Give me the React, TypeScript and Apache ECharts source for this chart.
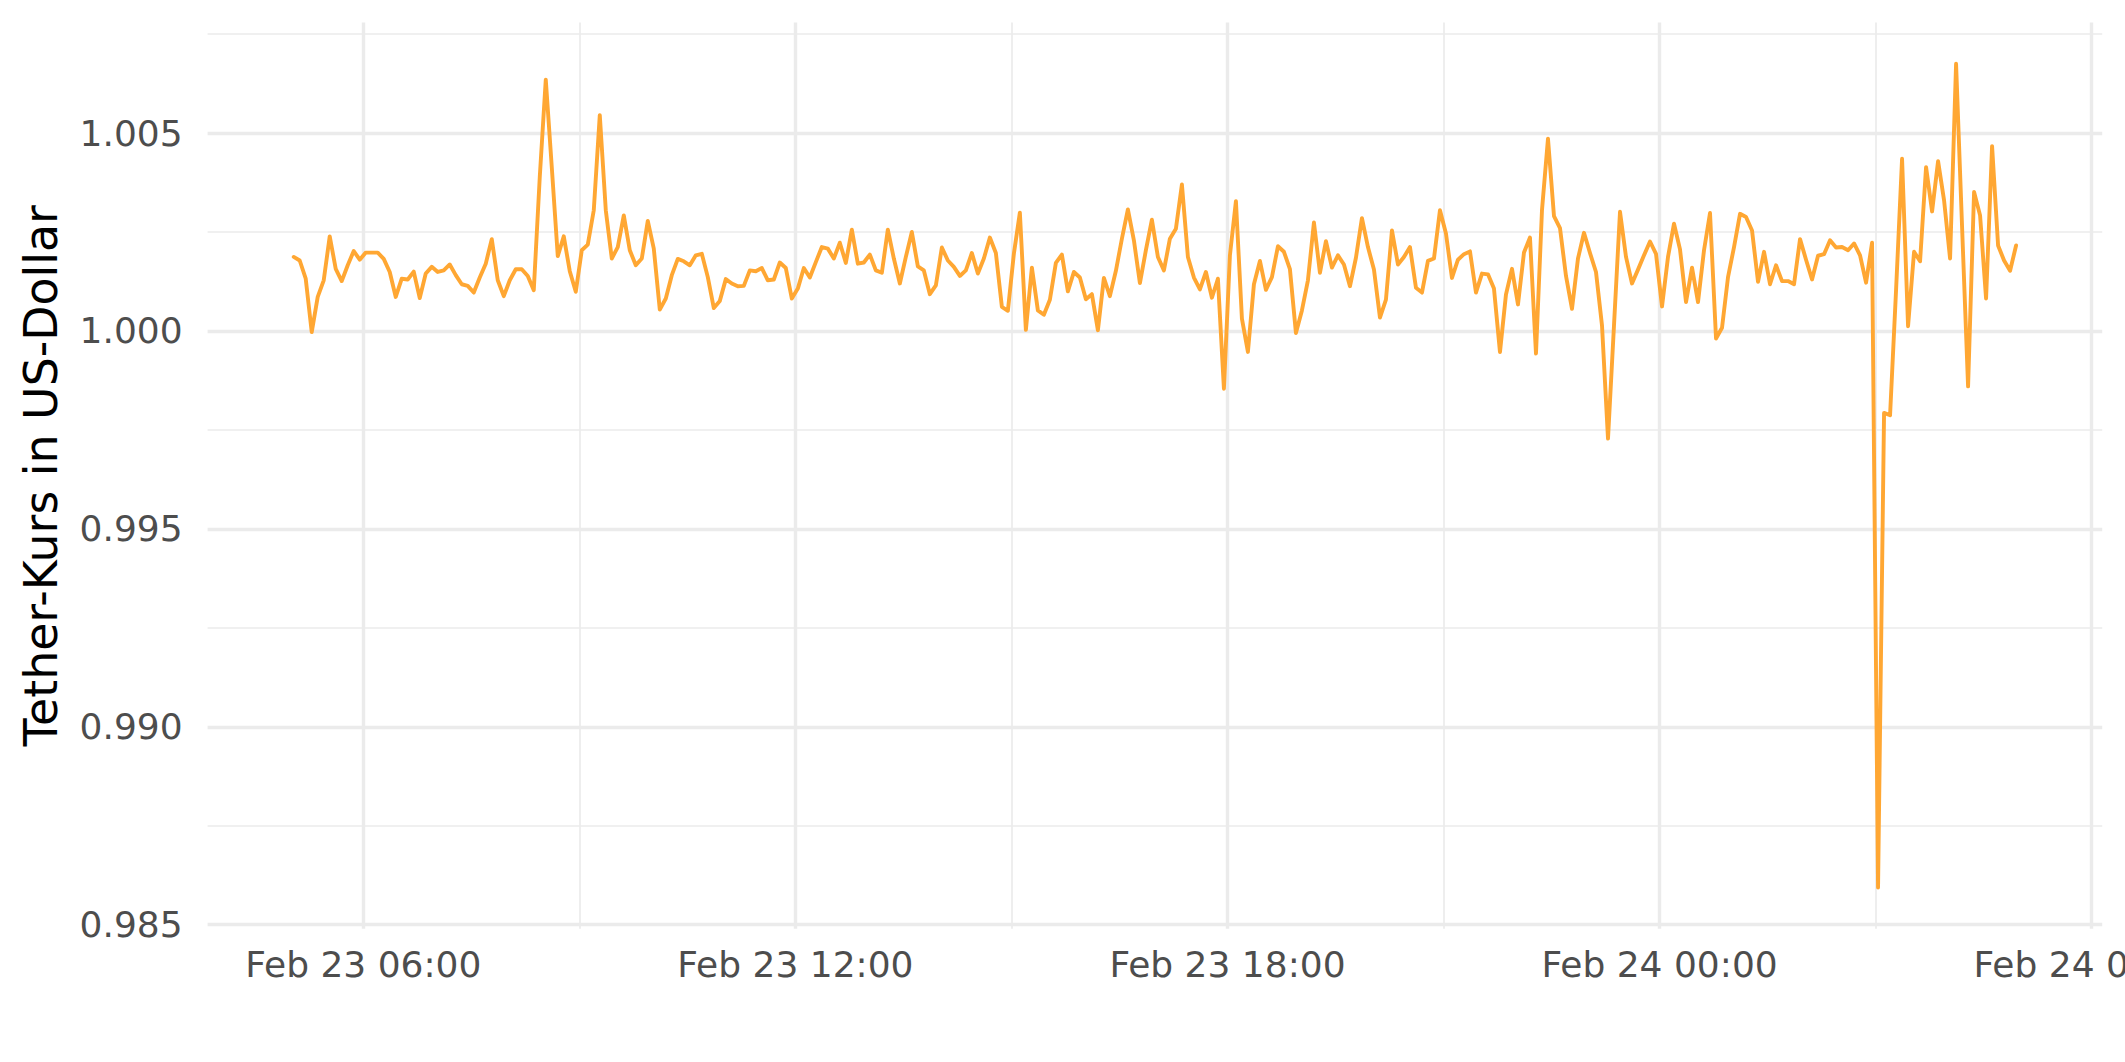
import React, { useEffect, useRef } from "react";
import * as echarts from "echarts";

// Tether price (USD), 5-minute steps starting Feb 23 05:02
const VALUES: number[] = [
  1.00187, 1.00178, 1.00132, 0.99997, 1.00086, 1.00128, 1.00239, 1.00157, 1.00126, 1.00166,
  1.00202, 1.0018, 1.00198, 1.00198, 1.00198, 1.00182, 1.00149, 1.00086, 1.00132, 1.0013,
  1.0015, 1.00083, 1.00145, 1.00162, 1.00149, 1.00153, 1.00168, 1.00141, 1.00118, 1.00114,
  1.00097, 1.00135, 1.0017, 1.00232, 1.00128, 1.00088, 1.00128, 1.00156, 1.00156, 1.00139,
  1.00103, 1.00389, 1.00635, 1.00414, 1.00189, 1.00239, 1.00151, 1.00099,
  1.00204, 1.00218, 1.00305, 1.00545, 1.00305, 1.00183, 1.00212, 1.00292, 1.00204, 1.00166,
  1.00183, 1.00278, 1.00208, 1.00054, 1.00082, 1.00141, 1.00182, 1.00176, 1.00166, 1.00191,
  1.00195, 1.00136, 1.00058, 1.00076, 1.00131, 1.0012, 1.00113, 1.00114, 1.00153, 1.00151,
  1.00159, 1.00128, 1.0013, 1.00173, 1.00159, 1.00082, 1.00107, 1.00159, 1.00135, 1.00174,
  1.00212, 1.00208, 1.00183, 1.00223, 1.00172, 1.00256, 1.0017,
  1.00173, 1.00193, 1.00153, 1.00147, 1.00256, 1.00183, 1.0012, 1.00187, 1.0025, 1.00163,
  1.00153, 1.00093, 1.00115, 1.00211, 1.00178, 1.00162, 1.00139, 1.00153, 1.00197, 1.00145,
  1.00183, 1.00236, 1.00197, 1.00061, 1.00051, 1.00195, 1.00299, 1.00003, 1.0016, 1.00052,
  1.00041, 1.00079, 1.00172, 1.00193, 1.001, 1.00149, 1.00135, 1.0008, 1.00093, 1.00002,
  1.00134, 1.00088, 1.00152, 1.00233, 1.00307, 1.00229, 1.00121,
  1.00204, 1.00281, 1.00187, 1.00153, 1.00233, 1.00258, 1.0037, 1.00187, 1.00135, 1.00105,
  1.00149, 1.00084, 1.00132, 0.99854, 1.00191, 1.00328, 1.00031, 0.99947, 1.00118, 1.00177,
  1.00104, 1.00136, 1.00214, 1.002, 1.00156, 0.99995, 1.00052, 1.00128, 1.00274, 1.00147,
  1.00227, 1.0016, 1.00191, 1.00168, 1.00113, 1.00185, 1.00285, 1.00212, 1.00155, 1.00034,
  1.00079, 1.00254, 1.00168, 1.00187, 1.00212, 1.00109,
  1.00097, 1.00177, 1.00183, 1.00305, 1.00246, 1.00134, 1.0018, 1.00194, 1.00201, 1.00097,
  1.00145, 1.00143, 1.00107, 0.99947, 1.00092, 1.00157, 1.00067, 1.00198, 1.00236, 0.99943,
  1.00305, 1.00486, 1.0029, 1.0026, 1.00139, 1.00056, 1.00183, 1.00248, 1.00197, 1.00149,
  1.00014, 0.99728, 1.00014, 1.00301, 1.00187, 1.0012, 1.00155, 1.00191, 1.00226, 1.00195,
  1.00062, 1.00187, 1.00271, 1.00206, 1.00073, 1.0016, 1.00073,
  1.00204, 1.00298, 0.99981, 1.00008, 1.00136, 1.00212, 1.00296, 1.00288, 1.00254, 1.00124,
  1.002, 1.00118, 1.00166, 1.00126, 1.00126, 1.00118, 1.00232, 1.0018, 1.0013, 1.0019,
  1.00194, 1.00229, 1.00211, 1.00212, 1.00204, 1.00221, 1.00191, 1.00122, 1.00223, 0.98594,
  0.99793, 0.99787, 1.00103, 1.00435, 1.00012, 1.002, 1.00176, 1.00414, 1.00302, 1.00429,
  1.0033, 1.00183, 1.00675, 1.00263, 0.9986, 1.00351, 1.00292, 1.00082, 1.00467, 1.00216,
  1.00178, 1.00152, 1.00216,
];

const START = new Date(2024, 1, 23, 5, 2, 0).getTime();
const STEP_MINUTES = 5;

const X_MIN = new Date(2024, 1, 23, 3, 50, 15).getTime();
const X_MAX = new Date(2024, 1, 24, 6, 8, 45).getTime();
const X_MAJOR = [
  new Date(2024, 1, 23, 6, 0).getTime(),
  new Date(2024, 1, 23, 12, 0).getTime(),
  new Date(2024, 1, 23, 18, 0).getTime(),
  new Date(2024, 1, 24, 0, 0).getTime(),
  new Date(2024, 1, 24, 6, 0).getTime(),
];
const X_MINOR = [
  new Date(2024, 1, 23, 9, 0).getTime(),
  new Date(2024, 1, 23, 15, 0).getTime(),
  new Date(2024, 1, 23, 21, 0).getTime(),
  new Date(2024, 1, 24, 3, 0).getTime(),
];

const Y_MIN = 0.9849;
const Y_MAX = 1.00779;
const Y_MAJOR = [0.985, 0.99, 0.995, 1.0, 1.005];
const Y_MINOR = [0.9875, 0.9925, 0.9975, 1.0025, 1.0075];

const MONTHS = ["Jan", "Feb", "Mar", "Apr", "May", "Jun", "Jul", "Aug", "Sep", "Oct", "Nov", "Dec"];
const pad = (n: number) => (n < 10 ? "0" + n : "" + n);

const FONT = "DejaVu Sans";
const GRID_COLOR = "#EBEBEB";

export default function App() {
  const ref = useRef<HTMLDivElement>(null);

  useEffect(() => {
    if (!ref.current) return;
    const chart = echarts.init(ref.current, null, { renderer: "svg" });
    const data = VALUES.map((v, i) => [START + i * STEP_MINUTES * 60000, v]);

    const gridLines: any[] = [
      ...Y_MINOR.map((v) => ({ yAxis: v, lineStyle: { width: 1.7, color: GRID_COLOR, type: "solid" } })),
      ...X_MINOR.map((t) => ({ xAxis: t, lineStyle: { width: 1.7, color: GRID_COLOR, type: "solid" } })),
      ...Y_MAJOR.map((v) => ({ yAxis: v, lineStyle: { width: 3.4, color: GRID_COLOR, type: "solid" } })),
      ...X_MAJOR.map((t) => ({ xAxis: t, lineStyle: { width: 3.4, color: GRID_COLOR, type: "solid" } })),
    ];

    chart.setOption({
      animation: false,
      backgroundColor: "#ffffff",
      grid: {
        left: 207.6,
        right: 22.8,
        top: 22.6,
        bottom: 133.3,
        containLabel: false,
        outerBoundsMode: "none",
      },
      xAxis: {
        type: "value",
        min: X_MIN,
        max: X_MAX,
        axisLine: { show: false },
        axisTick: { show: false },
        splitLine: { show: false },
        axisLabel: {
          customValues: X_MAJOR,
          margin: 17.5,
          color: "#4D4D4D",
          fontSize: 36,
          fontFamily: FONT,
          hideOverlap: false,
          formatter: (val: number) => {
            const d = new Date(val);
            return `${MONTHS[d.getMonth()]} ${d.getDate()} ${pad(d.getHours())}:${pad(d.getMinutes())}`;
          },
        },
      },
      yAxis: {
        type: "value",
        min: Y_MIN,
        max: Y_MAX,
        name: "Tether-Kurs in US-Dollar",
        nameLocation: "middle",
        nameGap: 144,
        nameTextStyle: { fontSize: 45.8, color: "#000000", fontFamily: FONT },
        axisLine: { show: false },
        axisTick: { show: false },
        splitLine: { show: false },
        axisLabel: {
          customValues: Y_MAJOR,
          margin: 25,
          color: "#4D4D4D",
          fontSize: 36,
          fontFamily: FONT,
          formatter: (v: number) => v.toFixed(3),
        },
      },
      series: [
        {
          type: "line",
          data,
          z: 3,
          showSymbol: false,
          symbol: "none",
          silent: true,
          lineStyle: { color: "#FFA733", width: 3.9, cap: "round", join: "round" },
          markLine: {
            z: 1,
            silent: true,
            precision: 8,
            symbol: ["none", "none"],
            label: { show: false },
            emphasis: { disabled: true },
            data: gridLines,
          },
        },
      ],
    });

    return () => chart.dispose();
  }, []);

  return (
    <div
      ref={ref}
      style={{ position: "fixed", left: 0, top: 0, width: 2125, height: 1062, background: "#fff" }}
    />
  );
}
